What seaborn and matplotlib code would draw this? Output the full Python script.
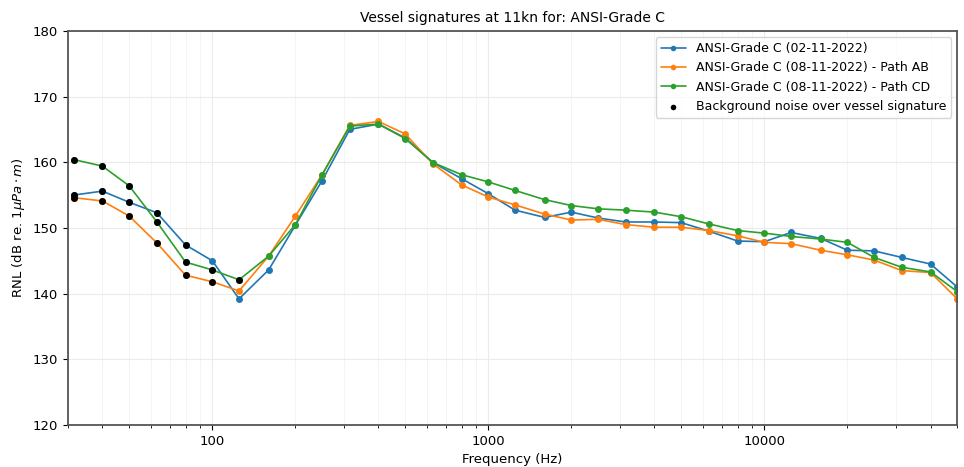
import numpy as np
import pandas as pd
import matplotlib
matplotlib.use("Agg")
import matplotlib.pyplot as plt
import seaborn as sns
from matplotlib.ticker import ScalarFormatter, NullFormatter

freqs = [31.5, 40, 50, 63, 80, 100, 125, 160, 200, 250, 315, 400, 500, 630, 800,
         1000, 1250, 1600, 2000, 2500, 3150, 4000, 5000, 6300, 8000, 10000,
         12500, 16000, 20000, 25000, 31500, 40000, 50000]

blue = [155.0, 155.6, 153.9, 152.3, 147.4, 145.0, 139.2, 143.6, 150.4, 157.2,
        165.0, 165.8, 163.7, 159.95, 157.5, 155.2, 152.7, 151.6, 152.4, 151.5,
        150.9, 150.9, 150.8, 149.5, 148.0, 147.9, 149.3, 148.4, 146.6, 146.5,
        145.5, 144.5, 141.0]
orange = [154.6, 154.1, 151.8, 147.7, 142.8, 141.8, 140.4, 145.7, 151.8, 158.1,
          165.6, 166.2, 164.3, 159.75, 156.55, 154.7, 153.5, 152.1, 151.2, 151.3,
          150.5, 150.1, 150.1, 149.6, 148.8, 147.8, 147.6, 146.6, 145.9, 145.1,
          143.5, 143.2, 139.2]
green = [160.4, 159.4, 156.4, 150.9, 144.8, 143.6, 142.1, 145.7, 150.5, 158.1,
         165.5, 165.8, 163.6, 159.95, 158.1, 157.0, 155.7, 154.3, 153.4, 152.9,
         152.7, 152.4, 151.7, 150.6, 149.6, 149.2, 148.7, 148.3, 147.8, 145.5,
         144.0, 143.3, 140.3]

# number of low-frequency bands where background noise exceeds the signature
n_bg_blue = 5
n_bg_orange = 6
n_bg_green = 7

labels = ["ANSI-Grade C (02-11-2022)",
          "ANSI-Grade C (08-11-2022) - Path AB",
          "ANSI-Grade C (08-11-2022) - Path CD"]
bg_label = "Background noise over vessel signature"
title = "Vessel signatures at 11kn for: ANSI-Grade C"

sns.set_style("ticks")
plt.rcParams['font.family'] = ['DejaVu Sans']
plt.rcParams.update({
    "text.color": "black", "axes.labelcolor": "black",
    "xtick.color": "black", "ytick.color": "black",
    "legend.fancybox": True, "legend.framealpha": 0.8,
    "legend.edgecolor": "0.8",
})

fig, ax = plt.subplots(figsize=(9.64, 4.67), dpi=100)
fig.subplots_adjust(left=0.0705, right=0.993, top=0.934, bottom=0.09)

colors = ["#1f77b4", "#ff7f0e", "#2ca02c"]
series = [blue, orange, green]
nbg = [n_bg_blue, n_bg_orange, n_bg_green]

for vals, lab, c in zip(series, labels, colors):
    df = pd.DataFrame({"f": freqs, "v": vals})
    sns.lineplot(data=df, x="f", y="v", ax=ax, color=c, marker="o",
                 markersize=5, markeredgewidth=0, linewidth=1.2, label=lab)

bg_f, bg_v = [], []
for vals, n in zip(series, nbg):
    bg_f += freqs[:n]
    bg_v += vals[:n]
bgdf = pd.DataFrame({"f": bg_f, "v": bg_v})
sns.scatterplot(data=bgdf, x="f", y="v", ax=ax, color="black", s=25,
                linewidth=0, zorder=5, label=bg_label)

ax.set_xscale("log")
ax.set_xlim(30, 50000)
ax.set_ylim(120, 180)
ax.set_yticks([120, 130, 140, 150, 160, 170, 180])
ax.xaxis.set_major_formatter(ScalarFormatter())
ax.xaxis.set_minor_formatter(NullFormatter())
ax.tick_params(axis="both", which="major", direction="out", length=3.5,
               width=0.8, labelsize=9.5, colors="black")
ax.tick_params(axis="x", which="minor", direction="out", length=2, width=0.6)
ax.grid(True, which="major", color="#ebebeb", linewidth=0.8)
ax.grid(True, which="minor", axis="x", color="#f3f3f3", linewidth=0.6)
for s in ax.spines.values():
    s.set_color("#555555")
    s.set_linewidth(1.3)

ax.set_xlabel("Frequency (Hz)", fontsize=9.5)
ax.set_ylabel(r"RNL (dB re. 1$\mu Pa \cdot m$)", fontsize=9.5)
ax.set_title(title, fontsize=10)

leg = ax.legend(loc="upper right", fontsize=9, frameon=True, markerscale=0.8)

fig.savefig("out.png", dpi=100)
